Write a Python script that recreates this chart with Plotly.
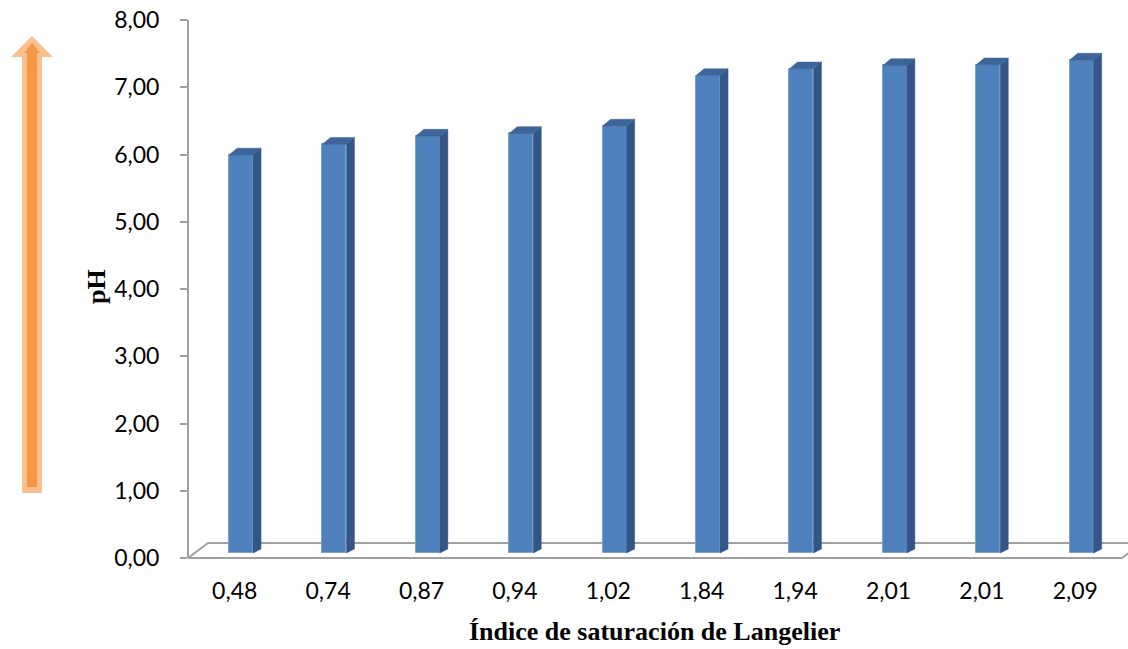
import plotly.graph_objects as go

# Langelier saturation index (categories) and measured pH
lsi_labels = ["0,48", "0,74", "0,87", "0,94", "1,02", "1,84", "1,94", "2,01", "2,01", "2,09"]
ph_values = [5.92, 6.08, 6.20, 6.24, 6.35, 7.10, 7.20, 7.25, 7.26, 7.33]
y_ticks = [0, 1, 2, 3, 4, 5, 6, 7, 8]

W, H = 1128, 649
M_L, M_R, M_T, M_B = 188, 0, 13, 84
X_RANGE = [-0.5, 9.564]
Y_RANGE = [-0.104, 8.104]

# pseudo-3D geometry (data units)
FRONT_OFF = -0.061     # left edge of front face relative to category
FRONT_W = 0.257        # front face width
DEPTH_X = 0.086        # receding depth, horizontal
DEPTH_Y = 0.100        # receding depth, vertical
BASE = 0.074           # bar floor sits slightly behind the front plane
FLOOR_DX = 0.214
FLOOR_DY = 0.223

FRONT = "#4F81BD"
SIDE = "#335686"
TOP = "#3D659A"
GRID = "#A0A0A0"

xs = list(range(len(ph_values)))

fig = go.Figure()

# front faces
fig.add_trace(go.Bar(
    x=xs, y=ph_values, base=BASE, width=FRONT_W, offset=FRONT_OFF,
    marker=dict(color=FRONT, line=dict(color="#7DA2CE", width=1)),
    hoverinfo="skip", showlegend=False,
))

# side and top faces
side_x, side_y, top_x, top_y = [], [], [], []
for i, v in zip(xs, ph_values):
    x0 = i + FRONT_OFF
    x1 = x0 + FRONT_W
    t = BASE + v
    side_x += [x1, x1 + DEPTH_X, x1 + DEPTH_X, x1, x1, None]
    side_y += [BASE, BASE + DEPTH_Y * 0.6, t + DEPTH_Y, t, BASE, None]
    top_x += [x0, x1, x1 + DEPTH_X, x0 + DEPTH_X, x0, None]
    top_y += [t, t, t + DEPTH_Y, t + DEPTH_Y, t, None]

fig.add_trace(go.Scatter(x=side_x, y=side_y, mode="lines", fill="toself",
                         fillcolor=SIDE, line=dict(color=SIDE, width=0.5),
                         hoverinfo="skip", showlegend=False))
fig.add_trace(go.Scatter(x=top_x, y=top_y, mode="lines", fill="toself",
                         fillcolor=TOP, line=dict(color=TOP, width=0.5),
                         hoverinfo="skip", showlegend=False))

shapes = []
# floor outline
floor_line = dict(color=GRID, width=2)
shapes.append(dict(type="line", xref="x", yref="y", x0=-0.5, y0=0, x1=9.5, y1=0, line=floor_line, layer="below"))
shapes.append(dict(type="line", xref="x", yref="y", x0=-0.5, y0=0, x1=-0.5 + FLOOR_DX, y1=FLOOR_DY, line=floor_line, layer="below"))
shapes.append(dict(type="line", xref="x", yref="y", x0=-0.5 + FLOOR_DX, y0=FLOOR_DY, x1=X_RANGE[1], y1=FLOOR_DY, line=floor_line, layer="below"))
shapes.append(dict(type="line", xref="x", yref="y", x0=9.5, y0=0, x1=9.5 + FLOOR_DX, y1=FLOOR_DY, line=floor_line, layer="below"))
# value axis line
shapes.append(dict(type="line", xref="paper", yref="y", x0=0, y0=0, x1=0, y1=8, line=dict(color=GRID, width=2)))


# upward arrow on the left margin (pixel layout converted to paper units)
def px(xp):
    return (xp - M_L) / (W - M_L - M_R)


def py(yp):
    return (H - M_B - yp) / (H - M_T - M_B)


def poly(points):
    d = "M " + " L ".join(f"{px(a):.5f},{py(b):.5f}" for a, b in points) + " Z"
    return d


outer = [(22, 493), (42, 493), (42, 57), (53, 57), (32, 36), (11, 57), (22, 57)]
inner = [(27, 487), (37, 487), (37, 53), (40, 53), (32, 43), (24, 53), (27, 53)]
shapes.append(dict(type="path", xref="paper", yref="paper", path=poly(outer),
                   fillcolor="#FAC08F", line=dict(width=0)))
shapes.append(dict(type="path", xref="paper", yref="paper", path=poly(inner),
                   fillcolor="#F79646", line=dict(width=0)))

tick_font = dict(family="Lato", size=23, color="#000000")
title_font = dict(family="Liberation Serif", size=26, color="#000000")

fig.update_layout(
    width=W, height=H,
    margin=dict(l=M_L, r=M_R, t=M_T, b=M_B),
    paper_bgcolor="white", plot_bgcolor="white",
    bargap=0,
    shapes=shapes,
    xaxis=dict(range=X_RANGE, tickmode="array", tickvals=xs, ticktext=lsi_labels,
               showgrid=False, zeroline=False, showline=False, ticks="",
               tickfont=tick_font, ticklabelstandoff=10),
    yaxis=dict(range=Y_RANGE, tickmode="array", tickvals=y_ticks,
               ticktext=[f"{v:.2f}".replace(".", ",") for v in y_ticks],
               showgrid=False, zeroline=False, showline=False,
               ticks="outside", ticklen=7, tickwidth=2, tickcolor=GRID,
               tickfont=tick_font, ticklabelstandoff=16),
    annotations=[
        dict(text="<b>pH</b>", xref="paper", yref="paper", x=px(96), y=py(287),
             xanchor="center", yanchor="middle", textangle=-90, showarrow=False,
             font=title_font),
        dict(text="<b>Índice de saturación de Langelier</b>", xref="paper", yref="paper",
             x=px(654), y=py(631), xanchor="center", yanchor="middle",
             showarrow=False, font=title_font),
    ],
)

fig.write_html("out.html")
